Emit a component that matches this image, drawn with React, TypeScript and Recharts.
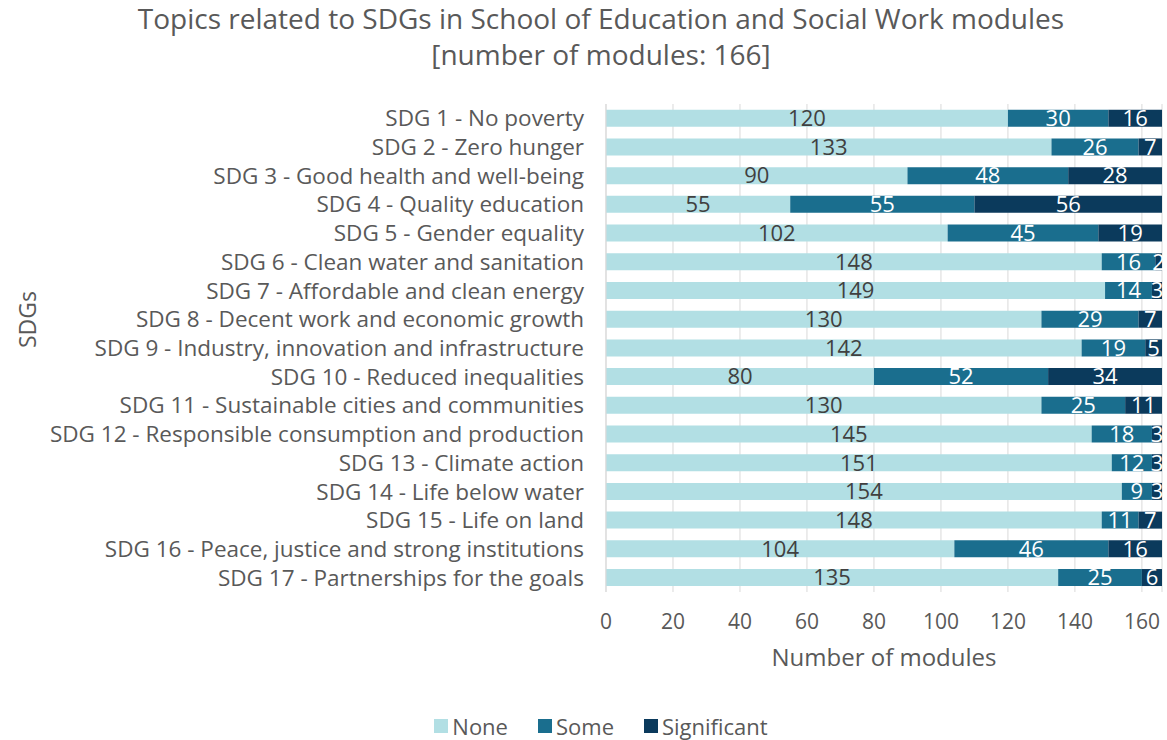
import { BarChart, Bar, XAxis, YAxis, CartesianGrid, LabelList } from 'recharts';

const sdgs = [
  'SDG 1 - No poverty',
  'SDG 2 - Zero hunger',
  'SDG 3 - Good health and well-being',
  'SDG 4 - Quality education',
  'SDG 5 - Gender equality',
  'SDG 6 - Clean water and sanitation',
  'SDG 7 - Affordable and clean energy',
  'SDG 8 - Decent work and economic growth',
  'SDG 9 - Industry, innovation and infrastructure',
  'SDG 10 - Reduced inequalities',
  'SDG 11 - Sustainable cities and communities',
  'SDG 12 - Responsible consumption and production',
  'SDG 13 - Climate action',
  'SDG 14 - Life below water',
  'SDG 15 - Life on land',
  'SDG 16 - Peace, justice and strong institutions',
  'SDG 17 - Partnerships for the goals',
];

const none = [120, 133, 90, 55, 102, 148, 149, 130, 142, 80, 130, 145, 151, 154, 148, 104, 135];
const some = [30, 26, 48, 55, 45, 16, 14, 29, 19, 52, 25, 18, 12, 9, 11, 46, 25];
const significant = [16, 7, 28, 56, 19, 2, 3, 7, 5, 34, 11, 3, 3, 3, 7, 16, 6];

const xTicks = [0, 20, 40, 60, 80, 100, 120, 140, 160];

const series = [
  { key: 'none', name: 'None', color: '#b2dfe4', text: '#404040' },
  { key: 'some', name: 'Some', color: '#1a6e8e', text: '#ffffff' },
  { key: 'significant', name: 'Significant', color: '#0b3a5c', text: '#ffffff' },
];

const data = sdgs.map((name, i) => ({
  name,
  none: none[i],
  some: some[i],
  significant: significant[i],
}));

const FONT = '"Open Sans", sans-serif';
const GREY = '#595959';

export default function App() {
  return (
    <div style={{ position: 'absolute', left: 0, top: 0, width: 1167, height: 740, background: '#fff', fontFamily: FONT }}>
      <div
        style={{
          position: 'absolute',
          left: 0,
          top: 0,
          width: 1202,
          textAlign: 'center',
          color: GREY,
          fontSize: 28,
          lineHeight: '36px',
        }}
      >
        Topics related to SDGs in School of Education and Social Work modules
        <br />
        [number of modules: 166]
      </div>
      <BarChart
        width={1167}
        height={740}
        data={data}
        layout="vertical"
        barCategoryGap="20%"
        margin={{ top: 104, right: 5, bottom: 78, left: 0 }}
      >
        <CartesianGrid horizontal={false} stroke="#d9d9d9" />
        <XAxis
          type="number"
          domain={[0, 166]}
          ticks={xTicks}
          axisLine={false}
          tickLine={false}
          tickMargin={16}
          height={70}
          tick={{ fill: GREY, fontSize: 21, fontFamily: FONT }}
          label={{ value: 'Number of modules', position: 'insideBottom', offset: -4, fill: GREY, fontSize: 24, fontFamily: FONT }}
        />
        <YAxis
          type="category"
          dataKey="name"
          width={606}
          axisLine={{ stroke: '#d9d9d9' }}
          tickLine={false}
          tickMargin={16}
          interval={0}
          tick={{ fill: GREY, fontSize: 22.5, fontFamily: FONT }}
          label={{ value: 'SDGs', angle: -90, position: 'insideLeft', offset: 28, fill: GREY, fontSize: 23, fontFamily: FONT }}
        />
        {series.map((s) => (
          <Bar key={s.key} dataKey={s.key} name={s.name} stackId="a" fill={s.color} isAnimationActive={false}>
            <LabelList dataKey={s.key} position="center" fill={s.text} fontSize={22} fontFamily={FONT} />
          </Bar>
        ))}
      </BarChart>
      <div
        style={{
          position: 'absolute',
          left: 0,
          top: 711,
          width: 1202,
          display: 'flex',
          justifyContent: 'center',
          gap: 30,
          color: GREY,
          fontSize: 22,
          lineHeight: '30px',
        }}
      >
        {series.map((s) => (
          <div key={s.key} style={{ display: 'flex', alignItems: 'center' }}>
            <span style={{ width: 14, height: 14, background: s.color, marginRight: 4, display: 'inline-block' }} />
            {s.name}
          </div>
        ))}
      </div>
    </div>
  );
}
